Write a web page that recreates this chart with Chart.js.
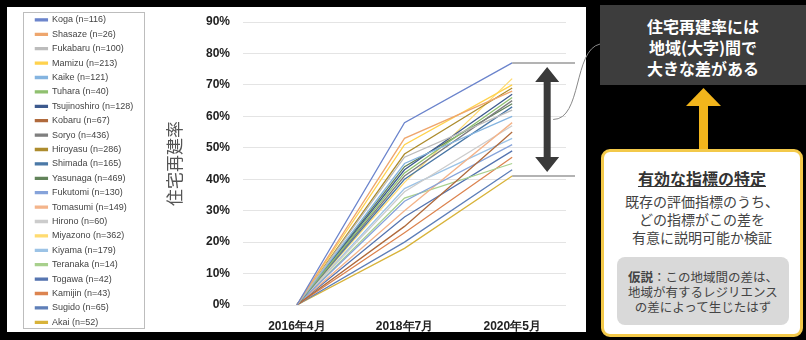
<!DOCTYPE html>
<html>
<head>
<meta charset="utf-8">
<script src="https://cdn.jsdelivr.net/npm/chart.js@4"></script>
<style>
  html, body { margin: 0; padding: 0; background: #000; }
  body { width: 806px; height: 340px; position: relative; overflow: hidden; font-family: "Noto Sans CJK JP", "Noto Sans", sans-serif; }
  #panel { position: absolute; left: 7px; top: 7px; width: 579px; height: 325px; background: #fff; }
  #wrap { position: absolute; left: 0; top: 0; width: 806px; height: 340px; }
  .note { position: absolute; text-align: center; }
  #claim { left: 600px; top: 5px; width: 206px; height: 80px; background: #3d3d3d; color: #fff; font-weight: bold; font-size: 16px; line-height: 21px; padding-top: 11px; box-sizing: border-box; }
  #task { left: 601px; top: 149px; width: 202px; height: 188px; background: #fff; border: 3px solid #f3c94a; border-radius: 9px; box-sizing: border-box; color: #444; }
  #task h3 { margin: 16px 0 4px 0; font-size: 16px; line-height: 20px; text-decoration: underline; color: #333; }
  #task p { margin: 0; font-size: 14px; line-height: 18px; }
  #hypo { position: absolute; left: 13px; top: 105px; width: 172px; height: 68px; background: #d9d9d9; border-radius: 8px; font-size: 12.5px; line-height: 15px; padding-top: 12px; box-sizing: border-box; color: #444; }
</style>
</head>
<body>
<div id="panel"></div>
<div id="wrap"><canvas id="rebuild" width="806" height="340"></canvas></div>

<div class="note" id="claim">住宅再建率には<br>地域(大字)間で<br>大きな差がある</div>
<div class="note" id="task">
  <h3>有効な指標の特定</h3>
  <p>既存の評価指標のうち、<br>どの指標がこの差を<br>有意に説明可能か検証</p>
  <div id="hypo"><b>仮説</b>：この地域間の差は、<br>地域が有するレジリエンス<br>の差によって生じたはず</div>
</div>

<script>
const categories = ['2016年4月', '2018年7月', '2020年5月'];

const areaNames = [
    'Koga (n=116)', 'Shasaze (n=26)', 'Fukabaru (n=100)', 'Mamizu (n=213)',
    'Kaike (n=121)', 'Tuhara (n=40)', 'Tsujinoshiro (n=128)', 'Kobaru (n=67)',
    'Soryo (n=436)', 'Hiroyasu (n=286)', 'Shimada (n=165)', 'Yasunaga (n=469)',
    'Fukutomi (n=130)', 'Tomasumi (n=149)', 'Hirono (n=60)', 'Miyazono (n=362)',
    'Kiyama (n=179)', 'Teranaka (n=14)', 'Togawa (n=42)', 'Kamijin (n=43)',
    'Sugido (n=65)', 'Akai (n=52)'
];

const rate2016 = [0, 0, 0, 0, 0, 0, 0, 0, 0, 0, 0, 0, 0, 0, 0, 0, 0, 0, 0, 0, 0, 0];
const rate2018 = [0.58, 0.53, 0.47, 0.51, 0.45, 0.42, 0.43, 0.25, 0.41, 0.48, 0.40,
                  0.44, 0.33, 0.30, 0.36, 0.39, 0.37, 0.34, 0.28, 0.23, 0.20, 0.18];
const rate2020 = [0.77, 0.68, 0.62, 0.70, 0.60, 0.66, 0.67, 0.55, 0.65, 0.69, 0.63,
                  0.64, 0.51, 0.58, 0.57, 0.72, 0.53, 0.45, 0.49, 0.47, 0.43, 0.41];

const lineColors = [
    '#6b84cc', '#eea66e', '#bcbcbc', '#ffd24d', '#84b4e0', '#8fc06f',
    '#3d5a8e', '#b06a3c', '#7e7e7e', '#ad8c2e', '#4a78a6', '#62835a',
    '#86a3da', '#f4b48a', '#cccccc', '#ffdb70', '#9cc3e6', '#a8d08d',
    '#5574b0', '#dc8450', '#5e7fb8', '#d8b33a'
];

const yTickLabels = ['0%', '10%', '20%', '30%', '40%', '50%', '60%', '70%', '80%', '90%'];

const datasets = areaNames.map((name, i) => ({
    label: name,
    data: [rate2016[i], rate2018[i], rate2020[i]],
    borderColor: lineColors[i],
    backgroundColor: lineColors[i],
    borderWidth: 1.3,
    pointRadius: 0,
    tension: 0
}));

// legend box border + gap arrow + callout arrow
const extras = {
    id: 'extras',
    afterInit(chart) {
        const lg = chart.legend;
        const fitLegend = lg.fit.bind(lg);
        // let the legend use the full panel height, fixed width
        lg.fit = () => { lg.maxHeight = 340; fitLegend(); lg.width = 115; };
    },
    afterLayout(chart) {
        chart.legend.top = 10;
        chart.legend.bottom = 340;
    },
    afterDraw(chart) {
        const ctx = chart.ctx;
        const lg = chart.legend;
        const xs = chart.scales.x;
        const ys = chart.scales.y;
        const area = chart.chartArea;

        ctx.save();
        ctx.strokeStyle = '#bdbdbd';
        ctx.lineWidth = 1;
        ctx.strokeRect(lg.left - 6.5, 12.5, lg.right - lg.left + 6, 316);

        const xEnd = xs.getPixelForValue(2);
        const yTop = ys.getPixelForValue(Math.max(...rate2020));
        const yBot = ys.getPixelForValue(Math.min(...rate2020));
        const right = area.right + 9;

        ctx.strokeStyle = '#9a9a9a';
        ctx.lineWidth = 1.5;
        ctx.beginPath();
        ctx.moveTo(xEnd, yTop); ctx.lineTo(right, yTop);
        ctx.moveTo(xEnd, yBot); ctx.lineTo(right, yBot);
        ctx.stroke();

        const ax = xEnd + 35;
        ctx.fillStyle = '#3a3a3a';
        ctx.fillRect(ax - 3.5, yTop + 16, 7, yBot - yTop - 32);
        ctx.beginPath();
        ctx.moveTo(ax, yTop + 4); ctx.lineTo(ax + 12, yTop + 19); ctx.lineTo(ax - 12, yTop + 19);
        ctx.closePath();
        ctx.moveTo(ax, yBot - 4); ctx.lineTo(ax + 12, yBot - 19); ctx.lineTo(ax - 12, yBot - 19);
        ctx.closePath();
        ctx.fill();

        const midY = (yTop + yBot) / 2;
        ctx.strokeStyle = '#888';
        ctx.lineWidth = 1;
        ctx.beginPath();
        ctx.moveTo(ax + 6, midY);
        ctx.bezierCurveTo(ax + 35, midY, ax + 26, 50, 600, 44);
        ctx.stroke();

        // yellow arrow between the two notes
        ctx.fillStyle = '#f2b51c';
        ctx.fillRect(699, 104, 9, 47);
        ctx.beginPath();
        ctx.moveTo(703.5, 88); ctx.lineTo(721, 106); ctx.lineTo(686, 106);
        ctx.closePath();
        ctx.fill();
        ctx.restore();
    }
};

const chart = new Chart(document.getElementById('rebuild'), {
    type: 'line',
    data: { labels: categories, datasets: datasets },
    options: {
        responsive: false,
        animation: false,
        layout: { padding: { left: 30, right: 240, top: 22, bottom: 4 } },
        plugins: {
            legend: {
                position: 'left',
                align: 'start',
                labels: {
                    boxWidth: 12,
                    boxHeight: 2,
                    padding: 5.4,
                    color: '#444',
                    font: { family: 'Liberation Sans', size: 9 }
                }
            },
            tooltip: { enabled: false }
        },
        scales: {
            x: {
                offset: true,
                afterFit: s => { s.height = 31; },
                grid: { display: false },
                border: { display: false },
                ticks: {
                    padding: 6,
                    color: '#222',
                    font: { family: 'Liberation Sans', size: 12, weight: 'bold' }
                }
            },
            y: {
                min: 0,
                max: 0.9,
                afterFit: s => { s.width = 98; },
                grid: { color: '#e4e4e4', drawTicks: false },
                border: { display: false },
                ticks: {
                    stepSize: 0.1,
                    padding: 13,
                    color: '#222',
                    font: { family: 'Liberation Sans', size: 12, weight: 'bold' },
                    callback: (v, i) => yTickLabels[i]
                },
                title: {
                    display: true,
                    text: '住宅再建率',
                    color: '#555',
                    padding: { top: 19, bottom: 0 },
                    font: { family: 'Noto Sans CJK JP', size: 17 }
                }
            }
        }
    },
    plugins: [extras]
});
</script>
</body>
</html>
